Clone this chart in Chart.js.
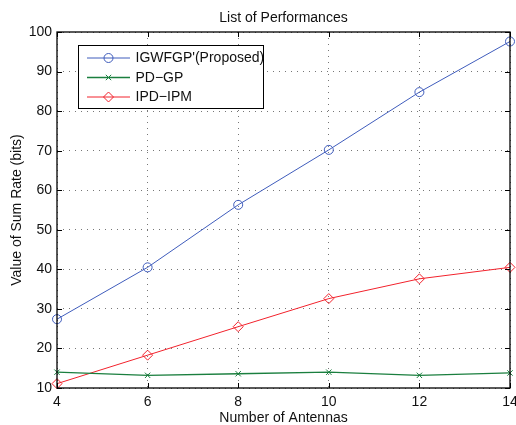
<!DOCTYPE html>
<html><head><meta charset="utf-8">
<script src="https://cdn.jsdelivr.net/npm/chart.js@4/dist/chart.umd.min.js"></script>
<style>html,body{margin:0;padding:0;background:#fff;}</style>
</head><body>
<canvas id="c" width="516" height="425"></canvas>
<script>
// ---- data ----
const antennas = [4, 6, 8, 10, 12, 14];
const igwfgp = [27.4, 40.5, 56.3, 70.2, 84.8, 97.6];
const pdgp = [14.0, 13.2, 13.6, 14.0, 13.2, 13.8];
const ipdipm = [11.1, 18.3, 25.5, 32.6, 37.6, 40.5];
const seriesLabels = ["IGWFGP'(Proposed)", "PD\u2212GP", "IPD\u2212IPM"];
const xTicks = [4, 6, 8, 10, 12, 14];
const yTicks = [10, 20, 30, 40, 50, 60, 70, 80, 90, 100];
const chartTitle = "List of Performances";
const xTitle = "Number of Antennas";
const yTitle = "Value of Sum Rate (bits)";

// ---- style ----
const FONT = {family: '"Liberation Sans", Arial, Helvetica, sans-serif', size: 14, lineHeight: 1.2};
const TXT = '#111';
const BLUE = '#3f5cbc', GREEN = '#1b7f3f', RED = '#f2222c';

function pts(ys){ return antennas.map((x,i)=>({x:x, y:ys[i]})); }

function drawMarker(ctx, style, r, x, y){
  ctx.beginPath();
  if (style === 'circle') { ctx.arc(x, y, r, 0, Math.PI*2); }
  else if (style === 'rectRot') { ctx.moveTo(x-r,y); ctx.lineTo(x,y-r); ctx.lineTo(x+r,y); ctx.lineTo(x,y+r); ctx.closePath(); }
  else if (style === 'crossRot') { const o=r*Math.SQRT1_2; ctx.moveTo(x-o,y-o); ctx.lineTo(x+o,y+o); ctx.moveTo(x+o,y-o); ctx.lineTo(x-o,y+o); }
  ctx.stroke();
}

const framePlugin = {
  id: 'frame',
  afterDraw(chart){
    const ctx = chart.ctx, ca = chart.chartArea;
    const xs = chart.scales.x, ys = chart.scales.y;
    ctx.save();
    ctx.strokeStyle = '#000'; ctx.lineWidth = 1;
    // inward ticks
    ctx.beginPath();
    xTicks.forEach(v=>{ const px = Math.round(xs.getPixelForValue(v))+0.5;
      ctx.moveTo(px, ca.bottom); ctx.lineTo(px, ca.bottom-5);
      ctx.moveTo(px, ca.top); ctx.lineTo(px, ca.top+5); });
    yTicks.forEach(v=>{ const py = Math.round(ys.getPixelForValue(v))+0.5;
      ctx.moveTo(ca.left, py); ctx.lineTo(ca.left+5, py);
      ctx.moveTo(ca.right, py); ctx.lineTo(ca.right-5, py); });
    ctx.stroke();
    // frame
    ctx.lineWidth = 1.3;
    ctx.strokeRect(ca.left, ca.top, ca.right-ca.left, ca.bottom-ca.top);
    // legend
    const lx = ca.left + 21.5, ly = ca.top + 13.5, lw = 185, lh = 63;
    ctx.fillStyle = '#fff';
    ctx.fillRect(lx, ly, lw, lh);
    ctx.lineWidth = 1; ctx.strokeStyle = '#000';
    ctx.strokeRect(lx, ly, lw, lh);
    ctx.font = FONT.size + 'px ' + FONT.family;
    ctx.textBaseline = 'middle'; ctx.textAlign = 'left';
    chart.data.datasets.forEach((ds, i)=>{
      const yy = ly + 12.5 + i*19.5;
      ctx.strokeStyle = ds.borderColor; ctx.lineWidth = ds.borderWidth;
      ctx.beginPath(); ctx.moveTo(lx+8.5, yy); ctx.lineTo(lx+51.5, yy); ctx.stroke();
      ctx.lineWidth = 1;
      drawMarker(ctx, ds.pointStyle, ds.pointRadius, lx+30, yy);
      ctx.fillStyle = TXT;
      ctx.fillText(ds.label, lx+57, yy+0.5);
    });
    ctx.restore();
  }
};

new Chart(document.getElementById('c'), {
  type: 'line',
  data: {
    datasets: [
      {label: seriesLabels[0], data: pts(igwfgp), borderColor: BLUE, borderWidth: 1, pointStyle: 'circle', pointRadius: 4.5,
       pointBorderWidth: 1, pointBorderColor: BLUE, pointBackgroundColor: 'rgba(0,0,0,0)', tension: 0, clip: false},
      {label: seriesLabels[1], data: pts(pdgp), borderColor: GREEN, borderWidth: 1.3, pointStyle: 'crossRot', pointRadius: 3.8,
       pointBorderWidth: 1, pointBorderColor: GREEN, pointBackgroundColor: 'rgba(0,0,0,0)', tension: 0, clip: false},
      {label: seriesLabels[2], data: pts(ipdipm), borderColor: RED, borderWidth: 1, pointStyle: 'rectRot', pointRadius: 5,
       pointBorderWidth: 1, pointBorderColor: RED, pointBackgroundColor: 'rgba(0,0,0,0)', tension: 0, clip: false}
    ]
  },
  options: {
    responsive: false, animation: false, devicePixelRatio: 1,
    layout: {padding: {left: 0, right: 6, top: 0, bottom: 0}},
    plugins: {legend: {display: false}, title: {display: false}, tooltip: {enabled: false}},
    scales: {
      x: {
        type: 'linear', position: 'bottom', min: 4, max: 14,
        afterBuildTicks: s => { s.ticks = xTicks.map(v => ({value: v})); },
        ticks: {padding: 5.6, font: FONT, color: TXT, maxRotation: 0, autoSkip: false},
        grid: {color: '#777', lineWidth: 1, drawTicks: false},
        border: {display: false, dash: [1, 5]},
        title: {display: true, text: xTitle, font: FONT, color: TXT, padding: {top: 0, bottom: -1.5}},
        afterFit: s => { s.height = 37; s.paddingLeft = 0; s.paddingRight = 0; }
      },
      y: {
        type: 'linear', position: 'left', min: 10, max: 100,
        afterBuildTicks: s => { s.ticks = yTicks.map(v => ({value: v})); },
        ticks: {padding: 5, font: FONT, color: TXT, autoSkip: false},
        grid: {color: '#777', lineWidth: 1, drawTicks: false},
        border: {display: false, dash: [1, 5]},
        title: {display: true, text: yTitle, font: FONT, color: TXT, padding: {top: 8.6, bottom: 0}},
        afterFit: s => { s.width = 57; s.paddingTop = 0; s.paddingBottom = 0; }
      },
      t: {
        type: 'linear', position: 'top', axis: 'x',
        ticks: {display: false}, grid: {display: false}, border: {display: false},
        title: {display: true, text: chartTitle, font: FONT, color: TXT, padding: {top: 9.4, bottom: 0}},
        afterFit: s => { s.height = 32; }
      }
    }
  },
  plugins: [framePlugin]
});
</script>
</body></html>
